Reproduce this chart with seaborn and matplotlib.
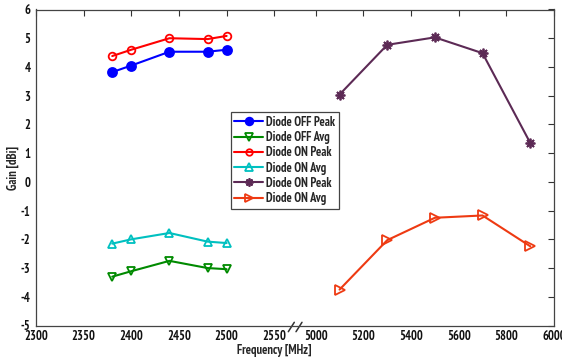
import numpy as np
import pandas as pd
import matplotlib
matplotlib.use("Agg")
import matplotlib.pyplot as plt
import seaborn as sns

# Measured gain per configuration
freq_24 = [2380, 2400, 2440, 2480, 2500]
freq_58 = [5100, 5300, 5500, 5700, 5900]
off_peak = [3.82, 4.05, 4.53, 4.53, 4.60]
off_avg = [-3.30, -3.11, -2.75, -3.00, -3.04]
on_peak = [4.38, 4.60, 5.00, 4.97, 5.08]
on_avg = [-2.15, -2.00, -1.78, -2.08, -2.13]
on_peak_58 = [3.04, 4.77, 5.03, 4.48, 1.36]
on_avg_58 = [-3.75, -2.03, -1.25, -1.17, -2.24]

labels = ["Diode OFF Peak", "Diode OFF Avg", "Diode ON Peak",
          "Diode ON Avg", "Diode ON Peak", "Diode ON Avg"]
x_ticks = [2300, 2350, 2400, 2450, 2500, 2550,
           5000, 5200, 5400, 5600, 5800, 6000]
y_ticks = [-5, -4, -3, -2, -1, 0, 1, 2, 3, 4, 5, 6]

sns.set_theme(style="white")
plt.rcParams["font.family"] = ["PT Sans Narrow", "Liberation Sans", "DejaVu Sans"]
plt.rcParams["font.weight"] = "bold"
plt.rcParams["axes.unicode_minus"] = False

fig = plt.figure(figsize=(5.62, 3.6), dpi=100)
W, H = 562, 360
L, R, T, B = 36, 554, 9.5, 325.5
ax = fig.add_axes([L / W, 1 - B / H, (R - L) / W, (B - T) / H])

# Broken frequency axis: 2.4 GHz band at 50 MHz/unit, 5.8 GHz band at 200 MHz/unit
P5000 = 5.87
XP = np.array([-1e4, 2570.0, 4920.0, 2e4])
FP = np.array([(-1e4 - 2300) / 50, (2570 - 2300) / 50,
               P5000 + (4920 - 5000) / 200, P5000 + (2e4 - 5000) / 200])


def fwd(x):
    return np.interp(x, XP, FP)


def inv(p):
    return np.interp(p, FP, XP)


ax.set_xscale("function", functions=(fwd, inv))

series = [
    (freq_24, off_peak, "#0000ff", "o", True, 6.5),
    (freq_24, off_avg, "#008a00", "v", False, 6),
    (freq_24, on_peak, "#ff0000", "o", False, 5.5),
    (freq_24, on_avg, "#00c0c0", "^", False, 6),
    (freq_58, on_peak_58, "#5c2a55", (8, 2, 0), True, 7),
    (freq_58, on_avg_58, "#ee3a12", ">", False, 6.5),
]
for (xs, ys, col, mk, filled, ms), lab in zip(series, labels):
    df = pd.DataFrame({"f": xs, "g": ys})
    sns.lineplot(data=df, x="f", y="g", ax=ax, color=col, marker=mk,
                 markersize=ms,
                 markerfacecolor=col if filled else "none",
                 markeredgecolor=col, markeredgewidth=1.3,
                 linewidth=1.5, label=lab, legend=False)

ax.set_xlim(2300, 6000)
ax.set_ylim(-5, 6)
ax.set_xticks(x_ticks)
ax.set_xticklabels([str(v) for v in x_ticks])
ax.set_yticks(y_ticks)
ax.set_yticklabels([str(v) for v in y_ticks])
ax.xaxis.set_minor_locator(matplotlib.ticker.NullLocator())
ax.tick_params(axis="both", which="both", direction="in", length=4,
               width=0.8, color="#333333", top=True, right=True,
               labelsize=9, pad=3, labelcolor="#111111")
ax.tick_params(axis="y", pad=4)
for s in ax.spines.values():
    s.set_color("#444444")
    s.set_linewidth(0.9)

ax.set_xlabel("Frequency [MHz]", fontsize=9, fontweight="bold")
ax.set_ylabel("Gain [dBi]", fontsize=9, fontweight="bold")
ax.xaxis.set_label_coords((274 - L) / (R - L), (B - 344) / (B - T))
ax.yaxis.set_label_coords((20 - L) / (R - L), 0.5)

# axis break marks
for x0 in (288.3, 296.0):
    xa = [(x0 - L) / (R - L), (x0 + 6 - L) / (R - L)]
    ya = [(B - 331.7) / (B - T), (B - 322.3) / (B - T)]
    ax.plot(xa, ya, transform=ax.transAxes, color="#333333", lw=1.1,
            clip_on=False)

leg = ax.legend(loc="upper left",
                bbox_to_anchor=((230.7 - L) / (R - L), (B - 112.3) / (B - T)),
                borderaxespad=0, fontsize=9, handlelength=2.3,
                handletextpad=0.25, labelspacing=0.18, borderpad=0.28,
                markerscale=0.85,
                fancybox=False, frameon=True, framealpha=1)
leg.get_frame().set_edgecolor("#444444")
leg.get_frame().set_linewidth(0.9)
for t in leg.get_texts():
    t.set_fontweight("bold")

fig.savefig("out.png", dpi=100)
